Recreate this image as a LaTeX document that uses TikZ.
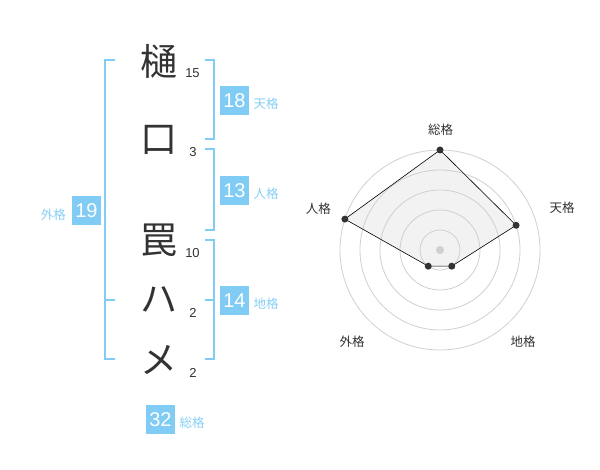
\documentclass[tikz,border=0pt]{standalone}
\usepackage{fontspec}
\setmainfont{Liberation Sans}
\newfontfamily\jp{Noto Sans CJK JP}
\definecolor{kblue}{RGB}{128,204,245}
\definecolor{klabel}{RGB}{135,207,245}
\definecolor{kdark}{RGB}{51,51,51}
\definecolor{kgrid}{RGB}{208,208,208}
\definecolor{kfill}{RGB}{242,242,242}
\begin{document}
\begin{tikzpicture}[x=1pt,y=-1pt,
  kanji/.style={inner sep=0, text=kdark, font=\jp\fontsize{37}{37}\selectfont},
  strokes/.style={inner sep=0, text=kdark, font=\fontsize{13}{13}\selectfont},
  numbox/.style={fill=kblue, text=white, minimum size=29pt, inner sep=0, font=\fontsize{20}{20}\selectfont},
  kaku/.style={inner sep=0, text=klabel, font=\jp\fontsize{12.5}{12.5}\selectfont},
  bracket/.style={draw=kblue, line width=2pt},
  gridline/.style={draw=kgrid, line width=0.8pt},
  axislabel/.style={inner sep=0, text=kdark, font=\jp\fontsize{12.5}{12.5}\selectfont},
  chartdot/.style={circle, fill=kdark, inner sep=0, minimum size=7pt},
]
\useasboundingbox[fill=white] (0,0) rectangle (600,470);

% name characters
\node[kanji] (c1) at (159,61) {樋};
\node[kanji] (c2) at (159,140) {口};
\node[kanji] (c3) at (159,240.5) {罠};
\node[kanji] (c4) at (159,300) {ハ};
\node[kanji] (c5) at (159,360) {メ};

% stroke counts
\node[strokes] (s1) at (192.5,73.5) {15};
\node[strokes] (s2) at (193,152.5) {3};
\node[strokes] (s3) at (192.5,253) {10};
\node[strokes] (s4) at (193,312.7) {2};
\node[strokes] (s5) at (193,372.5) {2};

% brackets
\draw[bracket] (115,60) -- (105,60) -- (105,359) -- (115,359);
\draw[bracket] (105,300) -- (115,300);
\draw[bracket] (205,60) -- (214,60) -- (214,139) -- (205,139);
\draw[bracket] (205,149) -- (214,149) -- (214,230) -- (205,230);
\draw[bracket] (205,240) -- (214,240) -- (214,359) -- (205,359);
\draw[bracket] (205,300) -- (214,300);

% boxes and labels
\node[numbox] (b18) at (234.5,100.5) {18};
\node[kaku] (l18) at (266,104) {天格};
\node[numbox] (b13) at (234.5,190.5) {13};
\node[kaku] (l13) at (266,194) {人格};
\node[numbox] (b14) at (234.5,300.5) {14};
\node[kaku] (l14) at (266,304) {地格};
\node[numbox] (b19) at (86.5,210.5) {19};
\node[kaku] (l19) at (53.3,214.5) {外格};
\node[numbox] (b32) at (160.5,419.5) {32};
\node[kaku] (l32) at (192,423) {総格};

% radar chart
\coordinate (ctr) at (440,250);
\coordinate (p1) at (440,150);
\coordinate (p2) at (516.08,225.28);
\coordinate (p3) at (451.76,266.18);
\coordinate (p4) at (428.24,266.18);
\coordinate (p5) at (344.89,219.10);
\fill[kfill] (p1) -- (p2) -- (p3) -- (p4) -- (p5) -- cycle;
\foreach \r in {20,40,60,80,100} {
  \draw[gridline] (ctr) circle[radius=\r pt];
}
\fill[kgrid] (ctr) circle[radius=4pt];
\draw[black, line width=0.6pt] (p1) -- (p2) -- (p3) -- (p4) -- (p5) -- cycle;
\foreach \p in {p1,p2,p3,p4,p5} {
  \node[chartdot] at (\p) {};
}
\node[axislabel] (a1) at (440.7,130) {総格};
\node[axislabel] (a2) at (562,208) {天格};
\node[axislabel] (a3) at (523,342) {地格};
\node[axislabel] (a4) at (352,342) {外格};
\node[axislabel] (a5) at (318.3,208.3) {人格};
\end{tikzpicture}
\end{document}
